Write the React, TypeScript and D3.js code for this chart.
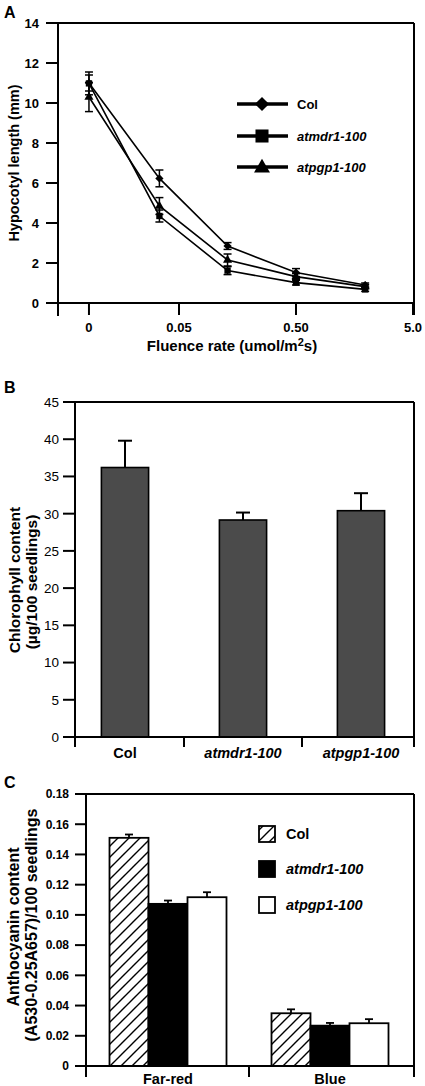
import React from 'react';
import * as d3 from 'd3';

const FONT = "'Liberation Sans', Arial, Helvetica, sans-serif";

// ---------- Panel A data ----------
const fluenceTickValues = [0, 0.05, 0.5, 5];
const fluenceTickLabels = ['0', '0.05', '0.50', '5.0'];
const fluence = [0, 0.034, 0.13, 0.5, 1.95];
const hypTicks = [0, 2, 4, 6, 8, 10, 12, 14];
const seriesNames = ['Col', 'atmdr1-100', 'atpgp1-100'];
const colLen = [11.0, 6.23, 2.85, 1.52, 0.9];
const colLenErr = [0.4, 0.42, 0.17, 0.2, 0.1];
const mdrLen = [10.98, 4.35, 1.62, 1.02, 0.68];
const mdrLenErr = [0.57, 0.3, 0.2, 0.12, 0.1];
const pgpLen = [10.3, 4.85, 2.15, 1.32, 0.82];
const pgpLenErr = [0.73, 0.42, 0.3, 0.15, 0.1];

// ---------- Panel B data ----------
const genotypes = ['Col', 'atmdr1-100', 'atpgp1-100'];
const chlorophyll = [36.2, 29.15, 30.4];
const chlorophyllErr = [3.6, 1.0, 2.35];
const chlTicks = [0, 5, 10, 15, 20, 25, 30, 35, 40, 45];

// ---------- Panel C data ----------
const lightConditions = ['Far-red', 'Blue'];
const anthoCol = [0.151, 0.0349];
const anthoColErr = [0.0022, 0.0026];
const anthoMdr = [0.1073, 0.0267];
const anthoMdrErr = [0.0022, 0.0018];
const anthoPgp = [0.1117, 0.0283];
const anthoPgpErr = [0.0033, 0.0027];
const anthoTicks = [0, 0.02, 0.04, 0.06, 0.08, 0.1, 0.12, 0.14, 0.16, 0.18];

const ZERO_AT = 0.0085; // log-axis position where fluence 0 is drawn

function PanelA() {
  const yA = d3.scaleLinear().domain([0, 14]).range([303, 23]);
  const xLog = d3.scaleLog().domain([0.05, 5]).range([179, 413]);
  const fx = (v: number) => xLog(v === 0 ? ZERO_AT : v);
  const series = [
    { name: seriesNames[0], vals: colLen, err: colLenErr, sym: 'diamond' },
    { name: seriesNames[1], vals: mdrLen, err: mdrLenErr, sym: 'square' },
    { name: seriesNames[2], vals: pgpLen, err: pgpLenErr, sym: 'triangle' },
  ];
  const line = d3.line<number>().x((_, i) => fx(fluence[i])).y((d) => yA(d));
  const symPath = (sym: string, big: boolean) => {
    if (sym === 'diamond') return d3.symbol().type(d3.symbolSquare).size(big ? 100 : 34)();
    if (sym === 'square') return d3.symbol().type(d3.symbolSquare).size(big ? 170 : 40)();
    return d3.symbol().type(d3.symbolTriangle).size(big ? 110 : 36)();
  };
  const symTransform = (sym: string, x: number, y: number) =>
    sym === 'diamond' ? `translate(${x},${y}) rotate(45)` : `translate(${x},${y})`;
  const legendRows = [104, 136, 167];
  return (
    <g>
      <text x={4} y={18} fontSize={16} fontWeight="bold">A</text>
      {/* frame */}
      <line x1={46} x2={414} y1={23} y2={23} stroke="#000" strokeWidth={2} />
      <line x1={414} x2={414} y1={23} y2={315} stroke="#000" strokeWidth={2} />
      <line x1={58} x2={58} y1={23} y2={316} stroke="#000" strokeWidth={2} />
      <line x1={46} x2={414} y1={303} y2={303} stroke="#000" strokeWidth={2} />
      {hypTicks.map((t) => (
        <g key={t}>
          <line x1={46} x2={58} y1={yA(t)} y2={yA(t)} stroke="#000" strokeWidth={2} />
          <text x={39} y={yA(t)} dy="0.36em" textAnchor="end" fontSize={13} fontWeight="bold">{t}</text>
        </g>
      ))}
      {fluenceTickValues.map((v, i) => (
        <g key={i}>
          <line x1={fx(v)} x2={fx(v)} y1={303} y2={315} stroke="#000" strokeWidth={2} />
          <text x={fx(v)} y={332} textAnchor="middle" fontSize={13} fontWeight="bold">{fluenceTickLabels[i]}</text>
        </g>
      ))}
      <text x={232} y={351} textAnchor="middle" fontSize={15} fontWeight="bold">
        <tspan>Fluence rate (umol/m</tspan>
        <tspan dy={-5} fontSize={11}>2</tspan>
        <tspan dy={5}>s)</tspan>
      </text>
      <text transform={`translate(14,163) rotate(-90)`} textAnchor="middle" dy="0.35em" fontSize={14.5} fontWeight="bold">
        Hypocotyl length (mm)
      </text>
      {/* lines */}
      {series.map((s) => (
        <path key={s.name} d={line(s.vals) || ''} fill="none" stroke="#000" strokeWidth={1.6} />
      ))}
      {/* error bars */}
      {series.map((s) =>
        s.vals.map((v, i) => {
          const x = fx(fluence[i]);
          const y1 = yA(v + s.err[i]);
          const y2 = yA(v - s.err[i]);
          return (
            <g key={s.name + i} stroke="#000" strokeWidth={1.5}>
              <line x1={x} x2={x} y1={y1} y2={y2} />
              <line x1={x - 4} x2={x + 4} y1={y1} y2={y1} />
              <line x1={x - 4} x2={x + 4} y1={y2} y2={y2} />
            </g>
          );
        })
      )}
      {/* markers */}
      {series.map((s) =>
        s.vals.map((v, i) => (
          <path key={s.name + 'm' + i} d={symPath(s.sym, false) || ''} transform={symTransform(s.sym, fx(fluence[i]), yA(v))} fill="#000" />
        ))
      )}
      {/* legend */}
      {series.map((s, i) => (
        <g key={'leg' + s.name}>
          <line x1={237} x2={288} y1={legendRows[i]} y2={legendRows[i]} stroke="#000" strokeWidth={3.5} />
          <path d={symPath(s.sym, true) || ''} transform={symTransform(s.sym, 262, legendRows[i] + (s.sym === 'triangle' ? 1 : 0))} fill="#000" />
          <text x={297} y={legendRows[i]} dy="0.36em" fontSize={13} fontWeight="bold" fontStyle={i === 0 ? 'normal' : 'italic'}>{s.name}</text>
        </g>
      ))}
    </g>
  );
}

function PanelB() {
  const yB = d3.scaleLinear().domain([0, 45]).range([737, 402]);
  const xB = d3.scaleBand<string>().domain(genotypes).range([66, 420]).paddingInner(0.6).paddingOuter(0.3);
  const step = xB.step();
  const bw = xB.bandwidth();
  const boundaries = genotypes.slice(1).map((g) => (xB(g) as number) - (step - bw) / 2);
  return (
    <g>
      <text x={4} y={393} fontSize={16} fontWeight="bold">B</text>
      <line x1={63} x2={414} y1={402} y2={402} stroke="#000" strokeWidth={2} />
      <line x1={414} x2={414} y1={402} y2={747} stroke="#000" strokeWidth={2} />
      <line x1={75} x2={75} y1={402} y2={747} stroke="#000" strokeWidth={2} />
      {chlTicks.map((t) => (
        <g key={t}>
          <line x1={63} x2={75} y1={yB(t)} y2={yB(t)} stroke="#000" strokeWidth={2} />
          <text x={59} y={yB(t)} dy="0.36em" textAnchor="end" fontSize={13.5}>{t}</text>
        </g>
      ))}
      {genotypes.map((g, i) => {
        const x = xB(g) as number;
        const top = yB(chlorophyll[i]);
        const eTop = yB(chlorophyll[i] + chlorophyllErr[i]);
        const cx = x + bw / 2;
        return (
          <g key={g}>
            <line x1={cx} x2={cx} y1={top} y2={eTop} stroke="#000" strokeWidth={2} />
            <line x1={cx - 7} x2={cx + 7} y1={eTop} y2={eTop} stroke="#000" strokeWidth={2} />
            <rect x={x} y={top} width={bw} height={yB(0) - top} fill="#4b4b4b" stroke="#000" strokeWidth={1.6} />
            <text x={cx} y={758} textAnchor="middle" fontSize={14.5} fontWeight="bold" fontStyle={i === 0 ? 'normal' : 'italic'}>{g}</text>
          </g>
        );
      })}
      <line x1={63} x2={414} y1={737} y2={737} stroke="#000" strokeWidth={2} />
      {boundaries.map((b, i) => (
        <line key={i} x1={b} x2={b} y1={737} y2={747} stroke="#000" strokeWidth={2} />
      ))}
      <text transform={`translate(15,580) rotate(-90)`} textAnchor="middle" dy="0.35em" fontSize={15.5} fontWeight="bold">
        Chlorophyll content
      </text>
      <text transform={`translate(32,582) rotate(-90)`} textAnchor="middle" dy="0.35em" fontSize={15.5} fontWeight="bold">
        (µg/100 seedlings)
      </text>
    </g>
  );
}

function PanelC() {
  const yC = d3.scaleLinear().domain([0, 0.18]).range([1066, 794]);
  const xG = d3.scaleBand<string>().domain(lightConditions).range([87, 411]).padding(0);
  const groupWidth = 117;
  const xS = d3.scaleBand<string>().domain(seriesNames).range([(xG.step() - groupWidth) / 2, (xG.step() + groupWidth) / 2]);
  const fills = ['url(#hatch)', '#000', '#fff'];
  const vals = [anthoCol, anthoMdr, anthoPgp];
  const errs = [anthoColErr, anthoMdrErr, anthoPgpErr];
  const fmt = (d: number) => (d === 0 ? '0' : d3.format('.2f')(d));
  const legendRows = [834, 869, 905];
  return (
    <g>
      <defs>
        <pattern id="hatch" patternUnits="userSpaceOnUse" width={11} height={11}>
          <rect width={11} height={11} fill="#fff" />
          <path d="M0,11 L11,0 M-3,3 L3,-3 M8,14 L14,8" stroke="#000" strokeWidth={1.4} />
        </pattern>
      </defs>
      <text x={4} y={788} fontSize={16} fontWeight="bold">C</text>
      <line x1={75} x2={414} y1={794} y2={794} stroke="#000" strokeWidth={2} />
      <line x1={414} x2={414} y1={794} y2={1077} stroke="#000" strokeWidth={2} />
      <line x1={86} x2={86} y1={794} y2={1077} stroke="#000" strokeWidth={2} />
      {anthoTicks.map((t) => (
        <g key={t}>
          <line x1={75} x2={86} y1={yC(t)} y2={yC(t)} stroke="#000" strokeWidth={2} />
          <text x={69} y={yC(t)} dy="0.36em" textAnchor="end" fontSize={12} fontWeight="bold">{fmt(t)}</text>
        </g>
      ))}
      {lightConditions.map((c, ci) => (
        <g key={c} transform={`translate(${xG(c)},0)`}>
          {seriesNames.map((s, si) => {
            const x = xS(s) as number;
            const bw = xS.bandwidth();
            const top = yC(vals[si][ci]);
            const eTop = yC(vals[si][ci] + errs[si][ci]);
            const cx = x + bw / 2;
            return (
              <g key={s}>
                <line x1={cx} x2={cx} y1={top} y2={eTop} stroke="#000" strokeWidth={1.8} />
                <line x1={cx - 4} x2={cx + 4} y1={eTop} y2={eTop} stroke="#000" strokeWidth={1.8} />
                <rect x={x} y={top} width={bw} height={yC(0) - top} fill={fills[si]} stroke="#000" strokeWidth={1.8} />
              </g>
            );
          })}
          <text x={xG.bandwidth() / 2} y={1083.5} textAnchor="middle" fontSize={14.5} fontWeight="bold">{c}</text>
        </g>
      ))}
      <line x1={75} x2={414} y1={1066} y2={1066} stroke="#000" strokeWidth={2} />
      {lightConditions.slice(1).map((c) => (
        <line key={c} x1={xG(c)} x2={xG(c)} y1={1066} y2={1077} stroke="#000" strokeWidth={2} />
      ))}
      {seriesNames.map((s, i) => (
        <g key={'l' + s}>
          <rect x={259} y={legendRows[i] - 8} width={16} height={16} fill={fills[i]} stroke="#000" strokeWidth={1.8} />
          <text x={286} y={legendRows[i]} dy="0.36em" fontSize={14.5} fontWeight="bold" fontStyle={i === 0 ? 'normal' : 'italic'}>{s}</text>
        </g>
      ))}
      <text transform={`translate(13,927) rotate(-90)`} textAnchor="middle" dy="0.35em" fontSize={16} fontWeight="bold">
        Anthocyanin content
      </text>
      <text transform={`translate(31,925) rotate(-90)`} textAnchor="middle" dy="0.35em" fontSize={16} fontWeight="bold">
        (A530-0.25A657)/100 seedlings
      </text>
    </g>
  );
}

export default function App() {
  return (
    <svg
      width={425}
      height={1086}
      viewBox="0 0 425 1086"
      style={{ position: 'absolute', left: 0, top: 0, background: '#fff' }}
      fontFamily={FONT}
    >
      <rect width={425} height={1086} fill="#fff" />
      <PanelA />
      <PanelB />
      <PanelC />
    </svg>
  );
}
